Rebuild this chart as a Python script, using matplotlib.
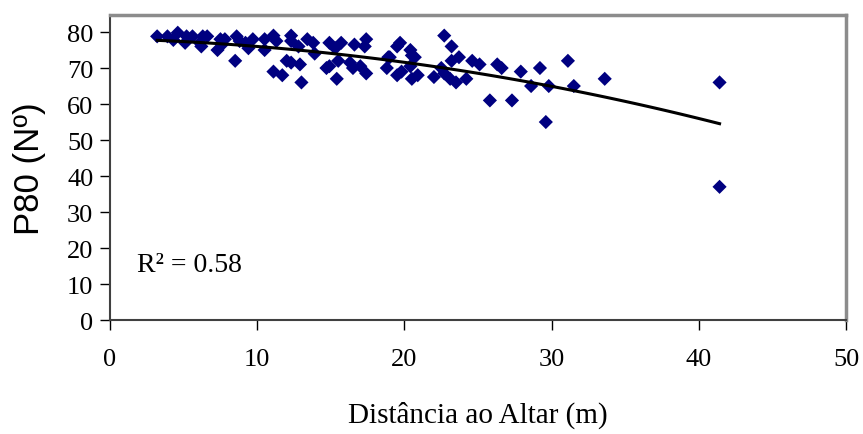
import numpy as np
import matplotlib
matplotlib.use("Agg")
import matplotlib.pyplot as plt

# distance to altar (m)
dist = [3.2, 3.9, 4.6, 4.3, 5.2, 5.6, 5.1, 6.1, 6.3, 6.6, 6.2, 7.5, 7.8, 7.3, 7.6,
        8.6, 8.8, 9.4, 9.7, 8.5, 9.2, 10.5, 11.1, 10.5, 11.3, 12.3, 12.3, 12.0, 12.3,
        12.9, 11.1, 11.7, 13.0, 13.4, 13.8, 12.8, 13.9, 14.9, 15.7, 15.3, 16.6, 17.4,
        17.3, 15.5, 14.9, 14.7, 16.3, 17.0, 16.5, 17.4, 15.4, 18.9, 18.8, 19.7, 19.5,
        19.0, 19.5, 19.8, 20.4, 20.5, 20.7, 20.4, 20.5, 20.9, 22.7, 23.2, 23.2, 23.7,
        22.5, 22.0, 22.7, 23.1, 23.5, 24.2, 24.6, 25.1, 26.3, 26.6, 25.8, 27.3, 27.9,
        28.6, 29.2, 29.8, 29.6, 31.1, 31.5, 33.6, 41.4, 41.4]
# P80 values
p80 = [78.8, 78.8, 79.8, 77.8, 78.8, 78.8, 77.0, 77.0, 78.8, 78.8, 76.0, 78.0, 78.0, 75.0, 76.5,
       78.8, 77.5, 75.5, 78.0, 72.0, 77.0, 78.0, 79.0, 75.0, 77.5, 79.0, 77.5, 72.0, 71.5,
       71.0, 69.0, 68.0, 66.0, 78.0, 77.0, 76.0, 74.0, 77.0, 77.0, 75.5, 76.5, 78.0,
       76.0, 72.0, 70.5, 70.0, 71.5, 70.5, 70.0, 68.5, 67.0, 73.0, 70.0, 77.0, 76.0,
       73.0, 68.0, 69.0, 75.0, 73.5, 73.0, 70.5, 67.0, 68.0, 79.0, 76.0, 72.0, 73.0,
       70.0, 67.5, 68.5, 67.0, 66.0, 67.0, 72.0, 71.0, 71.0, 70.0, 61.0, 61.0, 69.0,
       65.0, 70.0, 65.0, 55.0, 72.0, 65.0, 67.0, 66.0, 37.0]
r2_text = "R² = 0.58"

x = np.array(dist)
y = np.array(p80)
coef = np.polyfit(x, y, 2)
xs = np.linspace(x.min(), x.max(), 100)

fig = plt.figure(figsize=(8.63, 4.35), dpi=100)
ax = fig.add_axes([0.1275, 0.262, 0.853, 0.701])

ax.scatter(x, y, marker="D", s=52, color="#000080", edgecolors="none", zorder=2)
ax.plot(xs, np.polyval(coef, xs), color="black", lw=2.2, zorder=3)

ax.set_xlim(0, 50)
ax.set_ylim(0, 84.7)
ax.set_xticks(range(0, 51, 10))
ax.set_yticks(range(0, 81, 10))

serif = "Liberation Serif"
ax.tick_params(direction="out", length=7, width=1, colors="black")
ax.tick_params(axis="x", pad=13)
ax.tick_params(axis="y", pad=5)
for lab in ax.get_xticklabels() + ax.get_yticklabels():
    lab.set_family(serif)
    lab.set_fontsize(19)

for s in ["top", "right"]:
    ax.spines[s].set_color("#8c8c8c")
    ax.spines[s].set_linewidth(2.5)
for s in ["left", "bottom"]:
    ax.spines[s].set_color("#404040")
    ax.spines[s].set_linewidth(1.5)

ax.set_xlabel("Distância ao Altar (m)", family=serif, fontsize=21, labelpad=22)
ax.set_ylabel("P80 (Nº)", family="Liberation Sans", fontsize=25, labelpad=15)
ax.text(1.8, 13.6, r2_text, family=serif, fontsize=20, va="baseline")

fig.savefig("out.png", dpi=100)
